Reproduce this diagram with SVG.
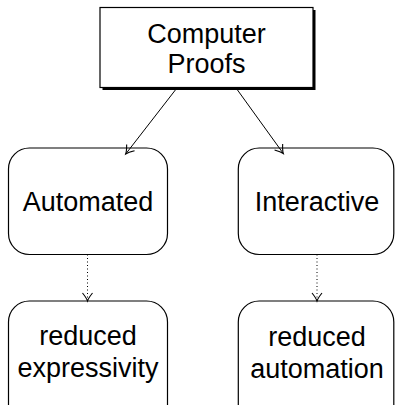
<svg xmlns="http://www.w3.org/2000/svg" width="395" height="405" viewBox="0 0 395 405">
<defs>
<style>
.box{fill:#fff;stroke:#000;stroke-width:1.2}
.lbl{font-family:"Liberation Sans",Arial,sans-serif;font-size:27px;fill:#000;text-anchor:middle}
.edge{fill:none;stroke:#000;stroke-width:1}
.dot{fill:none;stroke:#000;stroke-width:1;stroke-dasharray:1 2.5}
</style>
<marker id="ah" markerWidth="20" markerHeight="20" refX="0" refY="0" orient="auto" markerUnits="userSpaceOnUse" overflow="visible">
<path d="M-8,-5 Q-3,-1 0,0 Q-3,1 -8,5" fill="none" stroke="#000" stroke-width="1.1"/>
</marker>
</defs>
<g id="computer-proofs">
<rect x="102.5" y="10" width="213" height="80" fill="#000"/>
<rect class="box" x="100" y="7.5" width="213" height="80"/>
<text class="lbl" x="206.5" y="42.5">Computer</text>
<text class="lbl" x="206.5" y="72.5">Proofs</text>
</g>
<g id="automated">
<rect class="box" x="8.5" y="148" width="159" height="106.5" rx="21" ry="21"/>
<text class="lbl" x="88" y="210.5">Automated</text>
</g>
<g id="interactive">
<rect class="box" x="238.3" y="148" width="155.5" height="106.5" rx="21" ry="21"/>
<text class="lbl" x="317" y="210.5">Interactive</text>
</g>
<g id="reduced-expressivity">
<rect class="box" x="8.5" y="301" width="159" height="130" rx="21" ry="21"/>
<text class="lbl" x="88" y="345">reduced</text>
<text class="lbl" x="88" y="377">expressivity</text>
</g>
<g id="reduced-automation">
<rect class="box" x="238.3" y="301" width="155.5" height="130" rx="21" ry="21"/>
<text class="lbl" x="317" y="346">reduced</text>
<text class="lbl" x="317" y="378">automation</text>
</g>
<g id="connectors">
<line class="edge" x1="177.3" y1="87.5" x2="125.7" y2="154" marker-end="url(#ah)"/>
<line class="edge" x1="235.7" y1="87.5" x2="283.3" y2="153.5" marker-end="url(#ah)"/>
<line class="dot" x1="87.5" y1="254.5" x2="87.5" y2="301" marker-end="url(#ah)"/>
<line class="dot" x1="317" y1="254.5" x2="317" y2="301" marker-end="url(#ah)"/>
</g>
</svg>
